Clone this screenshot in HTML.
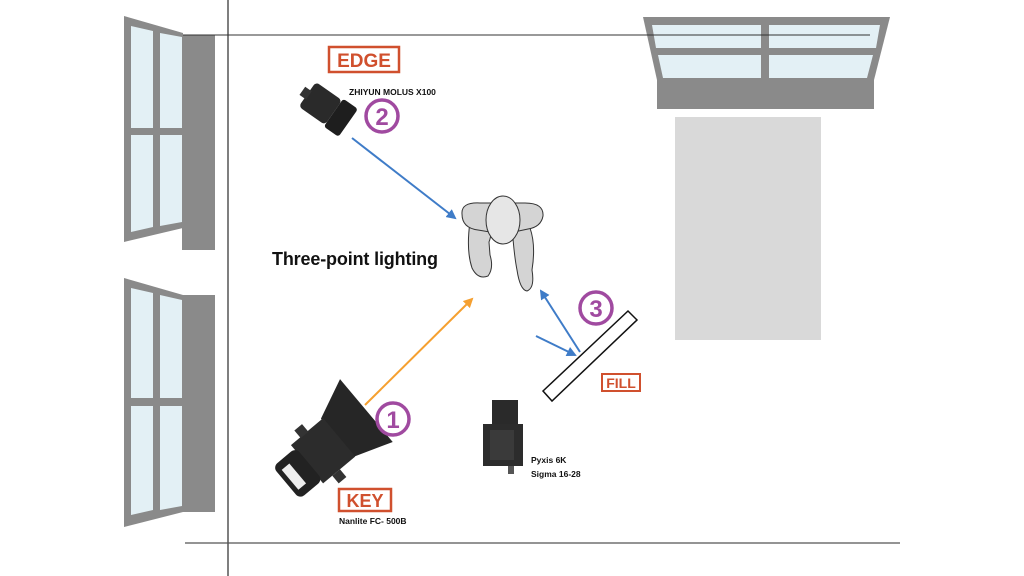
<!DOCTYPE html>
<html><head><meta charset="utf-8"><style>
html,body{margin:0;padding:0;background:#fff;}
svg{display:block;}
text{font-family:"Liberation Sans",sans-serif;}
</style></head><body>
<svg width="1024" height="576" viewBox="0 0 1024 576" xmlns="http://www.w3.org/2000/svg">
<defs>
<marker id="ab" markerWidth="10" markerHeight="10" refX="8" refY="5" orient="auto" markerUnits="userSpaceOnUse"><path d="M0,0 L10,5 L0,10 z" fill="#3f7cc8"/></marker>
<marker id="ao" markerWidth="10" markerHeight="10" refX="8" refY="5" orient="auto" markerUnits="userSpaceOnUse"><path d="M0,0 L10,5 L0,10 z" fill="#f5a030"/></marker>
</defs>
<g>
<rect x="182" y="35" width="33" height="215" fill="#8a8a8a"/>
<polygon points="124,16 183,33 183,228 124,242" fill="#8a8a8a"/>
<polygon points="131,26 153,31 153,128 131,128" fill="#e3f0f5"/>
<polygon points="160,33 182,37 182,128 160,128" fill="#e3f0f5"/>
<polygon points="131,135 153,135 153,227 131,232" fill="#e3f0f5"/>
<polygon points="160,135 182,135 182,222 160,226" fill="#e3f0f5"/>
</g>
<g>
<rect x="182" y="295" width="33" height="217" fill="#8a8a8a"/>
<polygon points="124,278 183,295 183,512 124,527" fill="#8a8a8a"/>
<polygon points="131,288 153,293 153,398 131,398" fill="#e3f0f5"/>
<polygon points="160,295 182,300 182,398 160,398" fill="#e3f0f5"/>
<polygon points="131,406 153,406 153,510 131,515" fill="#e3f0f5"/>
<polygon points="160,406 182,406 182,506 160,510" fill="#e3f0f5"/>
</g>
<rect x="657" y="78" width="217" height="31" fill="#8a8a8a"/>
<polygon points="643,17 890,17 874,80 657,80" fill="#8a8a8a"/>
<polygon points="652,25 761,25 761,48 656,48" fill="#e3f0f5"/>
<polygon points="769,25 880,25 876,48 769,48" fill="#e3f0f5"/>
<polygon points="658,55 761,55 761,78 663,78" fill="#e3f0f5"/>
<polygon points="769,55 873,55 867,78 769,78" fill="#e3f0f5"/>
<rect x="675" y="117" width="146" height="223" fill="#d9d9d9"/>
<line x1="228" y1="0" x2="228" y2="576" stroke="#555" stroke-width="1.5"/>
<line x1="183" y1="35" x2="870" y2="35" stroke="#333" stroke-width="1"/>
<line x1="185" y1="543" x2="900" y2="543" stroke="#555" stroke-width="1.2"/>
<!-- person -->
<g stroke="#333" stroke-width="1" fill="#d4d4d4">
<path d="M470,222 Q466,250 472,268 Q478,280 488,276 Q494,268 490,255 L489,242 Q493,232 488,224 Z"/>
<path d="M512,226 Q514,255 517,270 Q520,290 527,291 Q535,288 532,270 Q536,245 530,228 Z"/>
<path d="M462,214 Q461,202 480,203 L525,203 Q544,203 543,216 Q541,227 528,229 L514,232 L490,232 L478,230 Q462,228 462,214 Z"/>
<ellipse cx="503" cy="220" rx="17" ry="24" fill="#e6e6e6"/>
</g>
<line x1="352" y1="138" x2="455" y2="218" stroke="#3f7cc8" stroke-width="2" marker-end="url(#ab)"/>
<line x1="365" y1="405" x2="472" y2="299" stroke="#f5a030" stroke-width="2" marker-end="url(#ao)"/>
<line x1="580" y1="352" x2="541" y2="291" stroke="#3f7cc8" stroke-width="2" marker-end="url(#ab)"/>
<line x1="536" y1="336" x2="575" y2="355" stroke="#3f7cc8" stroke-width="2" marker-end="url(#ab)"/>
<polygon points="543,391 628,311 637,320 552,401" fill="#fff" stroke="#111" stroke-width="1.5"/>
<!-- edge light -->
<g transform="translate(328,110) rotate(35)">
<rect x="-26" y="-16" width="32" height="30" rx="4" fill="#2a2a2a"/>
<rect x="6" y="-18" width="18" height="34" rx="3" fill="#1e1e1e"/>
<rect x="-32" y="-6" width="8" height="10" fill="#333"/>
</g>
<!-- key light -->
<g transform="translate(330,445) rotate(-40)">
<polygon points="10,-26 50,-44 50,38 10,24" fill="#262626"/>
<rect x="-30" y="-25" width="42" height="50" fill="#2c2c2c"/>
<rect x="-58" y="-20" width="30" height="42" rx="6" fill="#222"/>
<rect x="-53" y="-12" width="10" height="26" fill="#eee"/>
<rect x="-18" y="-34" width="10" height="10" fill="#333"/>
<rect x="-18" y="25" width="10" height="10" fill="#333"/>
</g>
<rect x="492" y="400" width="26" height="30" fill="#2a2a2a"/>
<rect x="483" y="424" width="40" height="42" fill="#2c2c2c"/>
<rect x="490" y="430" width="24" height="30" fill="#3a3a3a"/>
<rect x="508" y="466" width="6" height="8" fill="#555"/>
<g fill="none" stroke="#a04aa0" stroke-width="3.5">
<circle cx="382" cy="116" r="16"/>
<circle cx="393" cy="419" r="16"/>
<circle cx="596" cy="308" r="16"/>
</g>
<g fill="#a04aa0" font-size="24" font-weight="bold" text-anchor="middle">
<text x="382" y="125">2</text><text x="393" y="428">1</text><text x="596" y="317">3</text>
</g>
<rect x="329" y="47" width="70" height="25" fill="#fff" stroke="#d0502e" stroke-width="2.5"/>
<text x="364" y="67" text-anchor="middle" font-size="19" font-weight="bold" fill="#d0502e">EDGE</text>
<rect x="339" y="489" width="52" height="22" fill="#fff" stroke="#d0502e" stroke-width="2.5"/>
<text x="365" y="507" text-anchor="middle" font-size="18" font-weight="bold" fill="#d0502e">KEY</text>
<rect x="602" y="374" width="38" height="17" fill="#fff" stroke="#d0502e" stroke-width="2"/>
<text x="621" y="388" text-anchor="middle" font-size="14" font-weight="bold" fill="#d0502e">FILL</text>
<text x="349" y="95" font-size="8.5" font-weight="bold" fill="#111">ZHIYUN MOLUS X100</text>
<text x="339" y="524" font-size="8.5" font-weight="bold" fill="#111">Nanlite FC- 500B</text>
<text x="531" y="463" font-size="8.5" font-weight="bold" fill="#111">Pyxis 6K</text>
<text x="531" y="477" font-size="8.5" font-weight="bold" fill="#111">Sigma 16-28</text>
<text x="272" y="265" font-size="18" font-weight="bold" fill="#111" textLength="166">Three-point lighting</text>
</svg>
</body></html>
